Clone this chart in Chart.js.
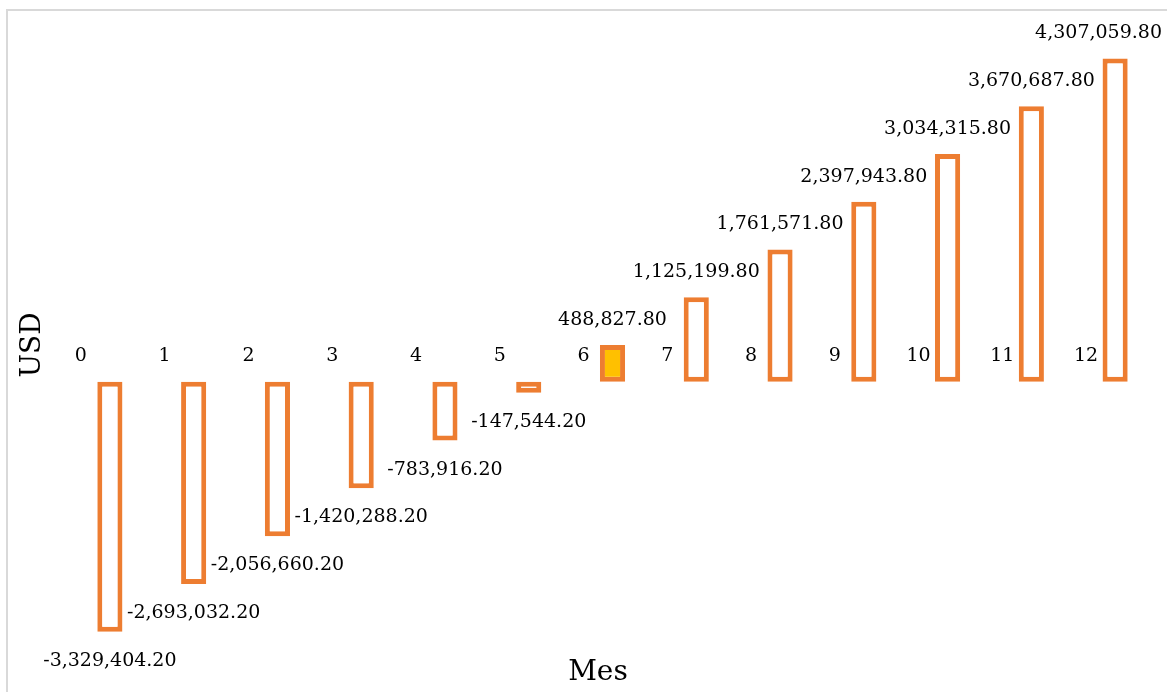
<!DOCTYPE html>
<html>
<head>
<meta charset="utf-8">
<script src="https://cdn.jsdelivr.net/npm/chart.js@4/dist/chart.umd.min.js"></script>
<style>
    body { margin: 0; background: #fff; overflow: hidden; }
    #wrap { position: relative; width: 1167px; height: 692px; }
    #frame {
        position: absolute; left: 6px; top: 9px;
        width: 1200px; height: 720px;
        border: 2px solid #d9d9d9;
        pointer-events: none;
    }
</style>
</head>
<body>
<div id="wrap">
    <canvas id="flujoChart" width="1167" height="692"></canvas>
    <div id="frame"></div>
</div>
<script>
/* =========================
   DATA
========================= */

const meses = ["0", "1", "2", "3", "4", "5", "6", "7", "8", "9", "10", "11", "12"];

const flujo = [
    -3329404.20, -2693032.20, -2056660.20, -1420288.20, -783916.20,
    -147544.20, 488827.80, 1125199.80, 1761571.80, 2397943.80,
    3034315.80, 3670687.80, 4307059.80
];

// mes de recuperacion resaltado
const mesRecuperacion = 6;

const NARANJA = "#ED7D31";
const DORADO = "#FFC000";
const FUENTE = "'DejaVu Serif', serif";

function formato(v) {
    return v.toLocaleString("en-US", { minimumFractionDigits: 2, maximumFractionDigits: 2 });
}

/* =========================
   LABELS (meses, valores, titulos)
========================= */

const etiquetas = {
    id: "etiquetas",
    afterDatasetsDraw(chart) {
        const ctx = chart.ctx;
        const xs = chart.scales.x;
        const ys = chart.scales.y;
        const cero = ys.getPixelForValue(0);
        const barras = chart.getDatasetMeta(0).data;

        ctx.save();
        ctx.fillStyle = "#000";
        ctx.textAlign = "center";
        ctx.textBaseline = "middle";
        ctx.font = "19px " + FUENTE;

        meses.forEach((m, i) => {
            ctx.fillText(m, xs.getPixelForValue(i) - 29, cero - 26);
        });

        flujo.forEach((v, i) => {
            const bar = barras[i];
            const texto = formato(v);
            const w = ctx.measureText(texto).width;
            let cx = bar.x;
            if (cx + w / 2 > chart.width - 5) cx = chart.width - 5 - w / 2;
            const cy = v >= 0 ? bar.y - 25 : bar.y + 29;
            ctx.fillText(texto, cx, cy);
        });

        ctx.font = "28px " + FUENTE;
        ctx.fillText("Mes", 598, 673);

        ctx.translate(33, 345);
        ctx.rotate(-Math.PI / 2);
        ctx.fillText("USD", 0, 0);
        ctx.restore();
    }
};

/* =========================
   CHART
========================= */

new Chart(document.getElementById("flujoChart"), {
    type: "bar",
    data: {
        labels: meses,
        datasets: [{
            label: "USD",
            data: flujo,
            backgroundColor: flujo.map((v, i) => i === mesRecuperacion ? DORADO : "#ffffff"),
            borderColor: NARANJA,
            borderWidth: 5,
            borderSkipped: false,
            barPercentage: 0.3,
            categoryPercentage: 1
        }]
    },
    options: {
        responsive: false,
        animation: false,
        devicePixelRatio: 1,
        layout: { padding: { left: 68, right: 10, top: 44, bottom: 10 } },
        plugins: {
            legend: { display: false },
            tooltip: { enabled: false }
        },
        scales: {
            x: { display: false },
            y: { display: false, min: -4000000, max: 4500000 }
        }
    },
    plugins: [etiquetas]
});
</script>
</body>
</html>
